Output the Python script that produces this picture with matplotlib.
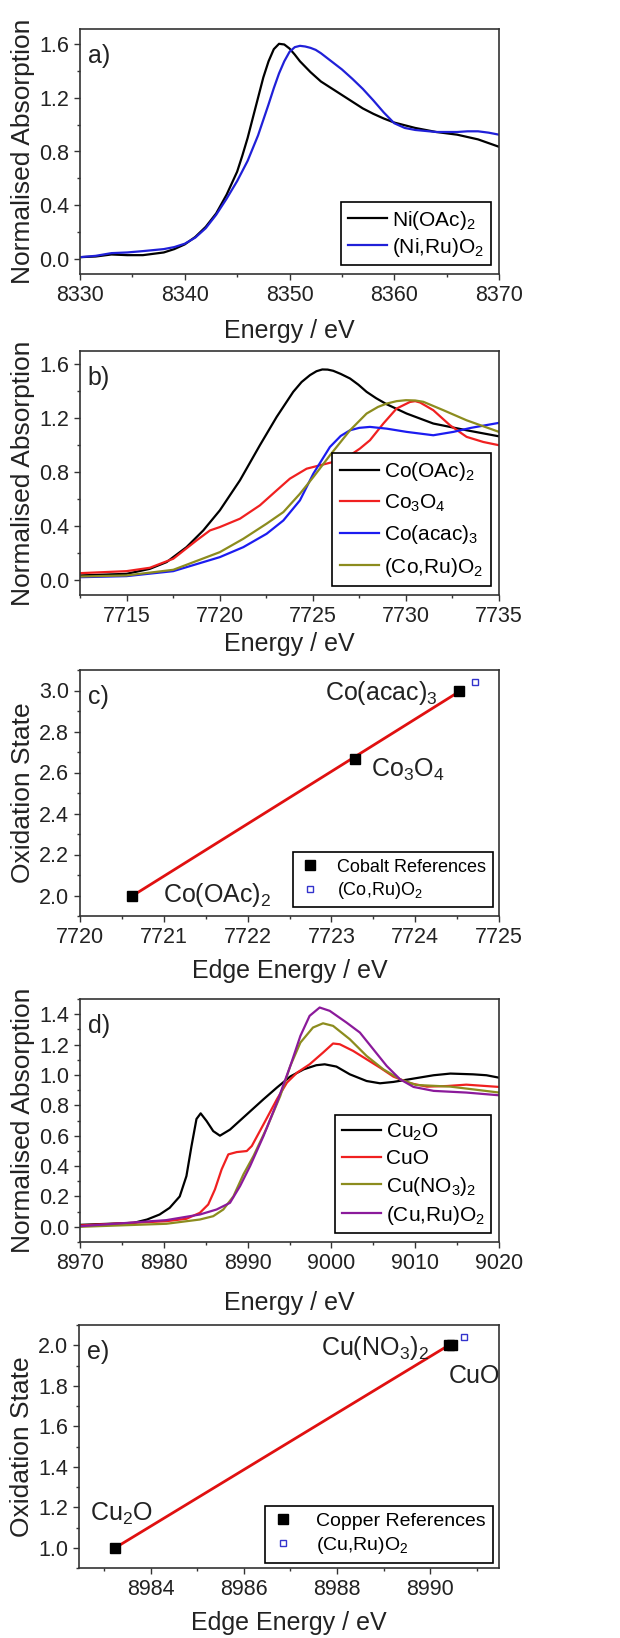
import numpy as np
import matplotlib
matplotlib.use("Agg")
import matplotlib.pyplot as plt
from matplotlib.ticker import MultipleLocator, FormatStrFormatter

plt.rcParams['font.family'] = ['Liberation Sans', 'DejaVu Sans']
plt.rcParams['mathtext.fontset'] = 'custom'
plt.rcParams['mathtext.rm'] = 'Liberation Sans'
plt.rcParams['mathtext.it'] = 'Liberation Sans'
plt.rcParams['mathtext.default'] = 'regular'

# ---------------- Panel a data (Ni K-edge) ----------------
a_ni_oac_E = [8330, 8331.5, 8333, 8334.5, 8336, 8338, 8339, 8340, 8341, 8342, 8343, 8344, 8345, 8345.5, 8346,
              8346.5, 8347, 8347.5, 8348, 8348.5, 8349, 8349.5, 8350, 8350.5, 8351, 8351.5, 8352, 8353, 8354,
              8355, 8356, 8357, 8358, 8359, 8360, 8362, 8364, 8366, 8368, 8370]
a_ni_oac_V = [0.015, 0.02, 0.035, 0.03, 0.03, 0.05, 0.075, 0.11, 0.165, 0.24, 0.34, 0.48, 0.65, 0.77, 0.90,
              1.05, 1.20, 1.35, 1.47, 1.56, 1.60, 1.595, 1.565, 1.52, 1.47, 1.43, 1.39, 1.32, 1.27,
              1.22, 1.17, 1.12, 1.08, 1.045, 1.015, 0.975, 0.945, 0.925, 0.89, 0.835]
a_niru_E = [8330, 8331.5, 8333, 8334.5, 8336, 8338, 8339, 8340, 8341, 8342, 8343, 8344, 8345, 8346, 8347, 8348,
            8348.5, 8349, 8349.5, 8350, 8350.5, 8351, 8351.5, 8352, 8352.5, 8353, 8354, 8355, 8356, 8357, 8358,
            8359, 8360, 8361, 8362, 8364, 8366, 8367, 8368, 8369, 8370]
a_niru_V = [0.015, 0.025, 0.045, 0.05, 0.06, 0.075, 0.09, 0.115, 0.16, 0.23, 0.33, 0.45, 0.58, 0.73, 0.92, 1.15,
            1.27, 1.38, 1.47, 1.54, 1.575, 1.585, 1.58, 1.57, 1.555, 1.53, 1.47, 1.41, 1.34, 1.265, 1.18,
            1.09, 1.01, 0.975, 0.96, 0.945, 0.945, 0.95, 0.95, 0.94, 0.925]

# ---------------- Panel b data (Co K-edge) ----------------
b_co_oac_E = [7712.5, 7715.0, 7716.25, 7717.15, 7718.22, 7719.12, 7720.01, 7721.09, 7722.16, 7723.06, 7723.95,
              7724.4, 7724.85, 7725.2, 7725.51, 7725.8, 7726.10, 7726.5, 7727.0, 7727.45, 7727.89, 7728.4,
              7728.97, 7730.04, 7731.47, 7733.26, 7735.0]
b_co_oac_V = [0.035, 0.047, 0.084, 0.134, 0.245, 0.369, 0.518, 0.741, 1.001, 1.211, 1.397,
              1.47, 1.521, 1.550, 1.563, 1.562, 1.553, 1.53, 1.496, 1.45, 1.397, 1.35,
              1.305, 1.236, 1.162, 1.112, 1.067]
b_co3o4_E = [7712.5, 7715.0, 7716.25, 7717.51, 7718.76, 7719.48, 7720.01, 7721.09, 7722.16, 7723.06, 7723.77,
             7724.67, 7725.38, 7726.10, 7727.0, 7727.53, 7728.07, 7728.79, 7729.50, 7730.22, 7730.5, 7730.76,
             7731.47, 7732.37, 7733.26, 7734.16, 7735.0]
b_co3o4_V = [0.052, 0.067, 0.092, 0.159, 0.295, 0.369, 0.394, 0.456, 0.555, 0.666, 0.753,
             0.827, 0.852, 0.877, 0.926, 0.976, 1.038, 1.162, 1.273, 1.322, 1.328, 1.318,
             1.261, 1.149, 1.063, 1.025, 1.001]
b_coacac_E = [7712.5, 7715.0, 7717.51, 7720.01, 7721.27, 7722.52, 7723.42, 7724.31, 7725.03, 7725.92, 7726.5,
              7727.0, 7727.5, 7728.07, 7728.97, 7730.04, 7731.47, 7732.55, 7733.5, 7735.0]
b_coacac_V = [0.022, 0.030, 0.067, 0.171, 0.245, 0.344, 0.443, 0.592, 0.790, 0.988, 1.07,
              1.112, 1.13, 1.137, 1.124, 1.100, 1.075, 1.10, 1.13, 1.167]
b_coru_E = [7712.5, 7715.0, 7717.51, 7720.01, 7721.27, 7722.52, 7723.42, 7724.31, 7725.03, 7725.92, 7727.0,
            7727.89, 7728.5, 7728.97, 7729.5, 7730.0, 7730.5, 7730.94, 7732.01, 7733.26, 7735.0]
b_coru_V = [0.027, 0.035, 0.077, 0.208, 0.307, 0.419, 0.505, 0.641, 0.765, 0.926, 1.112,
            1.236, 1.285, 1.310, 1.328, 1.335, 1.333, 1.323, 1.261, 1.186, 1.100]

# ---------------- Panel c data (Co oxidation state) ----------------
c_ref_names = ['Co(OAc)$_2$', 'Co$_3$O$_4$', 'Co(acac)$_3$']
c_ref_E = [7720.62, 7723.28, 7724.52]
c_ref_ox = [2.0, 2.667, 3.0]
c_sample_E = [7724.71]
c_sample_ox = [3.04]

# ---------------- Panel d data (Cu K-edge) ----------------
d_cu2o_E = [8970, 8976.4, 8978.0, 8979.5, 8980.7, 8981.9, 8982.7, 8983.3, 8983.9, 8984.4, 8985.1, 8985.9, 8986.7,
            8987.9, 8989.9, 8991.9, 8993.5, 8995.1, 8996.7, 8998.2, 8999.2, 9000.6, 9002.2, 9004.2, 9005.8,
            9007.4, 9009.8, 9012.2, 9014.2, 9016.9, 9018.5, 9020]
d_cu2o_V = [0.013, 0.026, 0.048, 0.081, 0.125, 0.20, 0.334, 0.53, 0.71, 0.747, 0.697, 0.63, 0.60,
            0.64, 0.74, 0.84, 0.917, 0.99, 1.037, 1.064, 1.07, 1.055, 1.004, 0.96, 0.945,
            0.954, 0.976, 0.998, 1.009, 1.004, 0.998, 0.982]
d_cuo_E = [8970, 8980.3, 8982.7, 8984.3, 8985.3, 8986.1, 8986.9, 8987.7, 8988.7, 8989.9, 8990.5, 8991.9, 8993.5,
           8994.7, 8995.9, 8997.4, 8999.0, 9000.2, 9001.0, 9002.6, 9004.2, 9005.8, 9007.4, 9009.4, 9011.4,
           9013.8, 9016.1, 9020]
d_cuo_V = [0.009, 0.037, 0.053, 0.092, 0.147, 0.246, 0.378, 0.477, 0.492, 0.499, 0.532, 0.675, 0.84,
           0.95, 1.015, 1.07, 1.147, 1.207, 1.202, 1.158, 1.103, 1.048, 0.989, 0.945, 0.923,
           0.927, 0.936, 0.921]
d_cuno3_E = [8970, 8980.3, 8984.3, 8985.9, 8987.1, 8988.3, 8989.5, 8990.7, 8992.3, 8993.9, 8995.1, 8996.3, 8997.8,
             8999.0, 9000.2, 9002.2, 9004.2, 9006.2, 9008.2, 9010.1, 9014.2, 9016.9, 9020]
d_cuno3_V = [0.0, 0.02, 0.048, 0.07, 0.114, 0.20, 0.345, 0.466, 0.653, 0.862, 1.06, 1.213, 1.312,
             1.34, 1.323, 1.235, 1.125, 1.037, 0.971, 0.934, 0.923, 0.905, 0.884]
d_curu_E = [8970, 8980.3, 8984.3, 8986.3, 8987.9, 8989.1, 8990.3, 8991.9, 8993.5, 8995.1, 8996.3, 8997.4, 8998.6,
            8999.8, 9001.8, 9003.4, 9005.0, 9006.6, 9008.2, 9009.8, 9012.2, 9016.1, 9020]
d_curu_V = [0.004, 0.044, 0.081, 0.114, 0.158, 0.268, 0.40, 0.598, 0.818, 1.06, 1.257, 1.389, 1.444,
            1.422, 1.345, 1.279, 1.169, 1.059, 0.971, 0.921, 0.895, 0.884, 0.866]

# ---------------- Panel e data (Cu oxidation state) ----------------
e_ref_E = [8983.24, 8990.40, 8990.47]
e_ref_ox = [1.0, 2.0, 2.0]
e_sample_E = [8990.73]
e_sample_ox = [2.043]

# ---------------- Figure ----------------
W, H = 620, 1638
fig = plt.figure(figsize=(W / 100, H / 100), dpi=100)


def make_ax(left, top, right, bottom):
    return fig.add_axes([left / W, 1 - bottom / H, (right - left) / W, (bottom - top) / H])


SPINE = '#333333'
TXT = '#222222'
TICK_FS = 15.5
LAB_FS = 18
ANN_FS = 18


def style(ax, xlim, ylim, xmaj, xmin, ymaj, ymin, letter, xlabel, ylabel, xlab_y):
    ax.set_xlim(*xlim)
    ax.set_ylim(*ylim)
    ax.xaxis.set_major_locator(MultipleLocator(xmaj))
    ax.xaxis.set_minor_locator(MultipleLocator(xmin))
    ax.yaxis.set_major_locator(MultipleLocator(ymaj))
    ax.yaxis.set_minor_locator(MultipleLocator(ymin))
    ax.yaxis.set_major_formatter(FormatStrFormatter('%.1f'))
    for s in ax.spines.values():
        s.set_color(SPINE)
        s.set_linewidth(1.2)
    ax.tick_params(which='major', direction='out', length=4, width=1.0, color=SPINE,
                   labelsize=TICK_FS, labelcolor=TXT, pad=4)
    ax.tick_params(which='minor', direction='out', length=2.5, width=1.0, color=SPINE)
    ax.set_xlabel(xlabel, fontsize=LAB_FS, color=TXT)
    ax.set_ylabel(ylabel, fontsize=19, color=TXT)
    ax.xaxis.set_label_coords(0.5, xlab_y)
    ax.yaxis.set_label_coords(-0.108, 0.5)
    ax.text(0.018, 0.94, letter, transform=ax.transAxes, fontsize=18, va='top', ha='left', color=TXT)


def legend(ax, anchor, fs, **kw):
    lg = ax.legend(loc='lower right', bbox_to_anchor=anchor, borderaxespad=0, fontsize=fs,
                   fancybox=False, framealpha=1, edgecolor='black', **kw)
    lg.get_frame().set_linewidth(1.2)
    return lg


LW = 1.6

# ----- a -----
ax = make_ax(80, 29, 499, 274)
ax.plot(a_ni_oac_E, a_ni_oac_V, color='black', lw=LW, label='Ni(OAc)$_2$')
ax.plot(a_niru_E, a_niru_V, color='#2020d8', lw=LW, label='(Ni,Ru)O$_2$')
style(ax, (8330, 8370), (-0.11, 1.71), 10, 5, 0.4, 0.2, 'a)', 'Energy / eV', 'Normalised Absorption', -0.185)
legend(ax, (0.98, 0.037), 15, handlelength=1.9, handletextpad=0.25, labelspacing=0.2, borderpad=0.3)

# ----- b -----
ax = make_ax(80, 351, 499, 595)
ax.plot(b_co_oac_E, b_co_oac_V, color='black', lw=LW, label='Co(OAc)$_2$')
ax.plot(b_co3o4_E, b_co3o4_V, color='#f02020', lw=LW, label='Co$_3$O$_4$')
ax.plot(b_coacac_E, b_coacac_V, color='#1c1cf0', lw=LW, label='Co(acac)$_3$')
ax.plot(b_coru_E, b_coru_V, color='#8c8c1e', lw=LW, label='(Co,Ru)O$_2$')
style(ax, (7712.5, 7735), (-0.11, 1.70), 5, 2.5, 0.4, 0.2, 'b)', 'Energy / eV', 'Normalised Absorption', -0.15)
legend(ax, (0.98, 0.037), 15, handlelength=1.9, handletextpad=0.25, labelspacing=0.45, borderpad=0.35)

# ----- c -----
ax = make_ax(80, 670, 499, 916)
cfit = np.polyfit(c_ref_E, c_ref_ox, 1)
cx = np.array([c_ref_E[0], c_ref_E[-1]])
ax.plot(cx, np.polyval(cfit, cx), color='#e01010', lw=2.0, zorder=2)
ax.plot(c_ref_E, c_ref_ox, ls='none', marker='s', ms=6.5, color='black', zorder=3, label='Cobalt References')
ax.plot(c_sample_E, c_sample_ox, ls='none', marker='s', ms=5, mfc='white', mec='#3333cc', mew=1.0,
        zorder=3, label='(Co,Ru)O$_2$')
style(ax, (7720, 7725), (1.9, 3.1), 1, 0.5, 0.2, 0.1, 'c)', 'Edge Energy / eV', 'Oxidation State', -0.175)
ax.text(7720.99, 1.967, c_ref_names[0], fontsize=ANN_FS, color=TXT, va='baseline')
ax.text(7723.47, 2.58, c_ref_names[1], fontsize=ANN_FS, color=TXT, va='baseline')
ax.text(7722.92, 2.956, c_ref_names[2], fontsize=ANN_FS, color=TXT, va='baseline')
legend(ax, (0.985, 0.035), 13, handlelength=1.2, handletextpad=0.9, labelspacing=0.25, borderpad=0.35)

# ----- d -----
ax = make_ax(80, 999, 499, 1242)
ax.plot(d_cu2o_E, d_cu2o_V, color='black', lw=LW, label='Cu$_2$O')
ax.plot(d_cuo_E, d_cuo_V, color='#f02020', lw=LW, label='CuO')
ax.plot(d_cuno3_E, d_cuno3_V, color='#8c8c1e', lw=LW, label='Cu(NO$_3$)$_2$')
ax.plot(d_curu_E, d_curu_V, color='#8b1a9b', lw=LW, label='(Cu,Ru)O$_2$')
style(ax, (8970, 9020), (-0.1, 1.5), 10, 5, 0.2, 0.1, 'd)', 'Energy / eV', 'Normalised Absorption', -0.2)
legend(ax, (0.982, 0.037), 15, handlelength=1.9, handletextpad=0.25, labelspacing=0.3, borderpad=0.3)

# ----- e -----
ax = make_ax(79, 1325, 499, 1568)
efit = np.polyfit([e_ref_E[0], e_ref_E[1]], [e_ref_ox[0], e_ref_ox[1]], 1)
ex = np.array([e_ref_E[0], e_ref_E[-1]])
ax.plot(ex, np.polyval(efit, ex), color='#e01010', lw=2.0, zorder=2)
ax.plot(e_ref_E, e_ref_ox, ls='none', marker='s', ms=6.5, color='black', zorder=3, label='Copper References')
ax.plot(e_sample_E, e_sample_ox, ls='none', marker='s', ms=5, mfc='white', mec='#3333cc', mew=1.0,
        zorder=3, label='(Cu,Ru)O$_2$')
style(ax, (8982.46, 8991.48), (0.9, 2.1), 2, 1, 0.2, 0.1, 'e)', 'Edge Energy / eV', 'Oxidation State', -0.175)
ax.text(8987.66, 1.954, 'Cu(NO$_3$)$_2$', fontsize=ANN_FS, color=TXT, va='baseline')
ax.text(8990.41, 1.815, 'CuO', fontsize=ANN_FS, color=TXT, va='baseline')
ax.text(8982.69, 1.133, 'Cu$_2$O', fontsize=ANN_FS, color=TXT, va='baseline')
legend(ax, (0.985, 0.021), 14, handlelength=1.2, handletextpad=1.1, labelspacing=0.25, borderpad=0.35)

fig.savefig('out.png', dpi=100)
